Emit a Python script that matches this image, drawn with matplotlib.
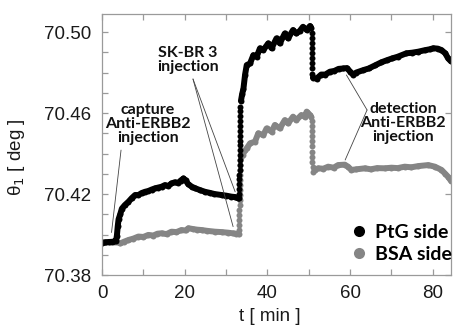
import matplotlib
matplotlib.use('Agg')

import matplotlib.pyplot as plt
import numpy as np
from matplotlib.lines import Line2D
from matplotlib.ticker import MultipleLocator, FixedLocator, FormatStrFormatter

nan = np.nan

# PtG side (black): time [min] and theta_1 [deg], nan = break in the trace
ptg_t = [0, 0.8, 1.6, 2.4, 3.0, 3.4, 3.6, 3.8, 4.0, 4.4, 4.8, 5.5, 6.4, 7.2, 8.0,
         8.8, 9.6, 10.4, 11.2, 12.0, 12.8, 13.6, 14.4, 15.2, 16.0, 16.8, 17.6,
         18.4, 19.0, 19.7, 20.2, 20.8, 21.7, 22.6, 23.6, 24.9, 26.0, 27.2, 28.9,
         30.0, 31.3, 32.2, 32.8, 33.1,
         nan,
         33.6, 33.9, 34.2, 34.6, 35.0, 35.8, 36.6, 37.4, 38.2, 39.0, 40.2, 41.0,
         42.2, 43.0, 44.2, 45.0, 46.2, 47.0, 47.8, 48.6, 49.5, 50.3, 50.6,
         nan,
         51.0, 51.9, 53.0, 54.0, 55.1, 56.2, 57.2, 58.3, 59.2, 60.0, 60.7, 61.5,
         63.2, 64.5, 66.0, 67.5, 68.8, 70.2, 71.5, 73.6, 75.0, 76.5, 78.0, 79.3,
         80.1, 81.2, 82.1, 83.0, 83.7, 84.4]
ptg_y = [70.3960, 70.3961, 70.3963, 70.3964, 70.3966, 70.3970, 70.3995, 70.4040,
         70.4075, 70.4100, 70.4128, 70.4145, 70.4162, 70.4180, 70.4195, 70.4195,
         70.4205, 70.4211, 70.4215, 70.4222, 70.4228, 70.4232, 70.4236, 70.4244,
         70.4240, 70.4252, 70.4258, 70.4255, 70.4266, 70.4277, 70.4268, 70.4250,
         70.4236, 70.4228, 70.4220, 70.4211, 70.4206, 70.4200, 70.4195, 70.4192,
         70.4187, 70.4185, 70.4180, 70.4178,
         nan,
         70.4660, 70.4695, 70.4720, 70.4790, 70.4837, 70.4845, 70.4886, 70.4878,
         70.4920, 70.4911, 70.4944, 70.4920, 70.4969, 70.4944, 70.4993, 70.4969,
         70.5010, 70.4993, 70.5005, 70.5026, 70.5010, 70.5030, 70.5020,
         nan,
         70.4775, 70.4770, 70.4790, 70.4790, 70.4804, 70.4808, 70.4818, 70.4820,
         70.4822, 70.4805, 70.4790, 70.4800, 70.4812, 70.4820, 70.4835, 70.4850,
         70.4860, 70.4870, 70.4878, 70.4895, 70.4898, 70.4903, 70.4910, 70.4915,
         70.4920, 70.4918, 70.4911, 70.4895, 70.4870, 70.4855]

# PtG fast samples during the injections (separate dots)
ptg_dots_t = [33.20, 33.21, 33.22, 33.23, 33.24, 33.25, 33.26, 33.27, 33.28, 33.29,
              33.30, 33.31, 33.32, 33.33, 33.35, 33.37, 33.39, 33.42, 33.45,
              50.75, 50.76, 50.77, 50.78, 50.79, 50.80, 50.81, 50.82, 50.85]
ptg_dots_y = [70.4200, 70.4224, 70.4248, 70.4272, 70.4296, 70.4320, 70.4344,
              70.4368, 70.4392, 70.4416, 70.4440, 70.4464, 70.4488, 70.4512,
              70.4536, 70.4560, 70.4584, 70.4608, 70.4632,
              70.4995, 70.4970, 70.4945, 70.4920, 70.4895, 70.4870, 70.4845,
              70.4820, 70.4795]

# BSA side (grey)
bsa_t = [0, 1.0, 2.0, 3.0, 3.5, 4.4, 5.4, 6.4, 7.6, 8.8, 10.0, 11.2, 12.4, 13.4,
         14.4, 15.6, 16.8, 18.0, 19.2, 20.2, 20.9, 22.0, 23.0, 24.1, 25.5, 27.3,
         28.9, 30.5, 31.6, 32.5, 33.1,
         nan,
         33.6, 34.0, 34.6, 35.0, 35.8, 37.0, 37.8, 39.0, 39.8, 41.0, 41.8, 43.0,
         44.2, 45.0, 46.2, 47.0, 48.2, 49.0, 49.5, 50.3, 50.6,
         nan,
         51.4, 52.3, 53.5, 54.7, 56.0, 57.1, 58.7, 59.5, 60.3, 61.5, 63.6, 65.0,
         66.5, 68.4, 70.0, 71.5, 73.2, 74.8, 76.5, 78.9, 80.5, 82.1, 83.0, 83.7,
         84.4]
bsa_y = [70.3960, 70.3961, 70.3962, 70.3964, 70.3965, 70.3956, 70.3965, 70.3973,
         70.3980, 70.3990, 70.3988, 70.3998, 70.3995, 70.4004, 70.4006, 70.4002,
         70.4014, 70.4012, 70.4022, 70.4020, 70.4031, 70.4027, 70.4024, 70.4022,
         70.4018, 70.4014, 70.4012, 70.4009, 70.4006, 70.4004, 70.4001,
         nan,
         70.4385, 70.4395, 70.4415, 70.4426, 70.4450, 70.4459, 70.4500, 70.4491,
         70.4524, 70.4508, 70.4541, 70.4524, 70.4565, 70.4549, 70.4582, 70.4565,
         70.4590, 70.4582, 70.4607, 70.4590, 70.4580,
         nan,
         70.4320, 70.4327, 70.4325, 70.4335, 70.4330, 70.4343, 70.4345, 70.4335,
         70.4319, 70.4322, 70.4327, 70.4322, 70.4328, 70.4327, 70.4330, 70.4328,
         70.4335, 70.4332, 70.4338, 70.4343, 70.4335, 70.4319, 70.4300, 70.4285,
         70.4265]

bsa_dots_t = [33.20, 33.21, 33.22, 33.23, 33.24, 33.25, 33.26, 33.27, 33.28, 33.30,
              33.32, 33.34, 33.37, 33.40, 33.45,
              50.75, 50.76, 50.77, 50.78, 50.79, 50.80, 50.82, 50.85, 50.9, 51.0,
              51.1]
bsa_dots_y = [70.4020, 70.4045, 70.4070, 70.4095, 70.4120, 70.4145, 70.4170,
              70.4195, 70.4220, 70.4245, 70.4270, 70.4295, 70.4320, 70.4345,
              70.4370,
              70.4560, 70.4535, 70.4510, 70.4485, 70.4460, 70.4435, 70.4410,
              70.4385, 70.4360, 70.4335, 70.4310]

y_ticks = [70.38, 70.42, 70.46, 70.50]

GREY = '#858585'
SPINE = '#9a9a9a'
LW = 4.3

fig = plt.figure(figsize=(4.53, 3.26), dpi=100)
ax = fig.add_axes([0.2252, 0.1564, 0.7704, 0.8006])

# traces: thick line + dense markers, fast samples as loose dots
ax.plot(bsa_t, bsa_y, '-o', color=GREY, lw=LW, ms=LW, mew=0,
        solid_capstyle='round', solid_joinstyle='round')
ax.plot(bsa_dots_t, bsa_dots_y, 'o', color=GREY, ms=LW, mew=0)
ax.plot(ptg_t, ptg_y, '-o', color='black', lw=LW, ms=LW, mew=0,
        solid_capstyle='round', solid_joinstyle='round')
ax.plot(ptg_dots_t, ptg_dots_y, 'o', color='black', ms=LW, mew=0)

ax.set_xlim(0, 84.4)
ax.set_ylim(70.38, 70.5089)

ax.xaxis.set_major_locator(MultipleLocator(20))
ax.xaxis.set_minor_locator(MultipleLocator(10))
ax.yaxis.set_major_locator(FixedLocator(y_ticks))
ax.yaxis.set_minor_locator(MultipleLocator(0.01))
ax.yaxis.set_major_formatter(FormatStrFormatter('%.2f'))

for s in ax.spines.values():
    s.set_color(SPINE)
    s.set_linewidth(0.9)

ax.tick_params(which='both', direction='in', length=4, width=0.9, color=SPINE,
               top=True, right=True, labelsize=13.5, labelcolor='#1a1a1a', pad=7.5)
ax.tick_params(which='minor', right=False)
for lab in ax.get_xticklabels() + ax.get_yticklabels():
    lab.set_family('Liberation Sans')

ax.set_xlabel('t [ min ]', family='Liberation Sans', fontsize=13.5, color='#1a1a1a')
ax.set_ylabel('θ$_1$ [ deg ]', family='Liberation Sans', fontsize=13.5, color='#1a1a1a')
ax.xaxis.set_label_coords(0.48, -0.128)
ax.yaxis.set_label_coords(-0.215, 0.45)

# annotations
note = dict(family='Lato', fontweight='bold', fontsize=11.5, ha='center', va='center',
            linespacing=1.0, color='#111111')
lead = dict(arrowstyle='-', lw=0.6, color='#444444', shrinkA=0, shrinkB=0)

ax.text(11.1, 70.4548, 'capture\nAnti-ERBB2\ninjection', **note)
ax.annotate('', xy=(2.3, 70.4010), xytext=(4.6, 70.4417), arrowprops=lead)

ax.text(20.8, 70.4862, 'SK-BR 3\ninjection', **note)
ax.annotate('', xy=(32.2, 70.4211), xytext=(22.0, 70.4768), arrowprops=lead)
ax.annotate('', xy=(31.7, 70.4039), xytext=(22.0, 70.4768), arrowprops=lead)

ax.text(72.8, 70.4550, 'detection\nAnti-ERBB2\ninjection', **note)
ax.annotate('', xy=(59.1, 70.4788), xytext=(64.1, 70.4615), arrowprops=lead)
ax.annotate('', xy=(58.8, 70.4368), xytext=(64.1, 70.4615), arrowprops=lead)

handles = [Line2D([], [], ls='none', marker='o', ms=8, color='black', mew=0),
           Line2D([], [], ls='none', marker='o', ms=8, color=GREY, mew=0)]
ax.legend(handles, ['PtG side', 'BSA side'], loc='lower left',
          bbox_to_anchor=(0.665, -0.02), frameon=False, handlelength=0.8,
          handletextpad=0.4, labelspacing=0.25,
          prop=dict(family='Lato', weight='bold', size=14))

fig.savefig('out.png', dpi=100)
